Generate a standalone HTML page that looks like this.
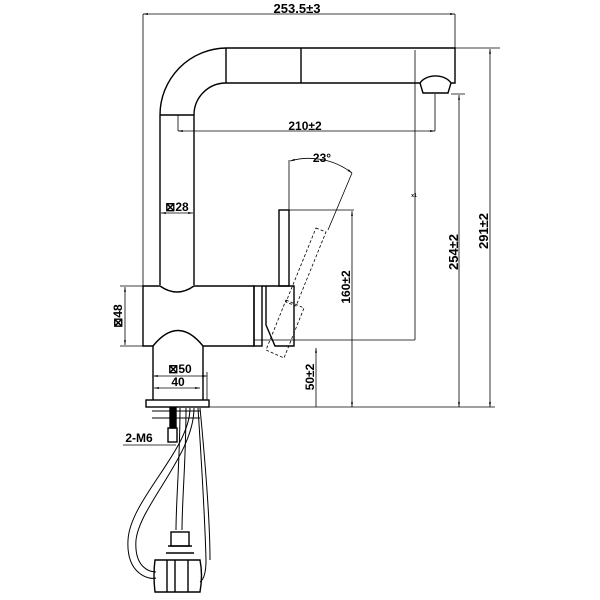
<!DOCTYPE html>
<html><head><style>html,body{margin:0;padding:0;background:#fff}svg{display:block}text{font-family:"Liberation Sans",sans-serif;font-weight:bold;fill:#000}</style></head>
<body>
<svg width="600" height="600" viewBox="0 0 600 600" xmlns="http://www.w3.org/2000/svg">
<defs><marker id="a" viewBox="0 0 10 10" refX="10" refY="5" markerWidth="6" markerHeight="6" orient="auto-start-reverse"><path d="M0,3 L10,5 L0,7z" fill="#000"/></marker></defs>
<g fill="none" stroke="#000" stroke-width="1.4">
<!-- spout -->
<path d="M160,285 L160,115 A67,67 0 0 1 226,48 L455,48 L455,83 L451,83"/>
<path d="M194,285 L194,115 A32,32 0 0 1 226,83 L420,83"/>
<path d="M226,48V83 M301,48V83 M160,115H194"/>
<path d="M420,83 A17,12 0 0 1 451,83 L448,93 L423,93 Z"/>
<!-- lever -->
<rect x="279" y="210" width="10" height="76"/>
<path d="M262,286 H294 V346 H275 L266,325 V286"/>
<rect x="254" y="286" width="8" height="60"/>
<!-- body -->
<path d="M143,286 H160 Q177,298 194,286 H254 V346 H203 Q178,315 153,346 H143 Z"/>
<path d="M153,346 V400 M203,346 V400"/>
<rect x="146" y="400" width="63" height="7"/>
<path d="M152,411 H200 M152,418 H200" stroke-width="1"/>
<rect x="170" y="408" width="6" height="20" fill="#000"/>
<rect x="168" y="428" width="9" height="14"/>
<!-- hoses -->
<path d="M180,408 C180,460 176,500 176,530 M186,408 C186,460 182,500 182,530" stroke-width="1"/>
<path d="M190,408 C190,450 130,500 128,540 C126,575 150,580 156,578" stroke-width="1"/>
<path d="M194,408 C194,455 140,505 136,540 C134,568 150,572 156,572" stroke-width="1"/>
<path d="M198,408 C202,470 205,520 206,560 C206,575 203,580 200,582 M200,408 C206,470 210,520 210,560" stroke-width="1"/>
<rect x="171" y="532" width="18" height="14"/>
<path d="M168,546 H192 M166,553 H194"/>
<path d="M155,560 Q153,575 155,592 H200 Q203,575 200,560 Z"/>
<path d="M167,560V592 M175,560V592 M188,560V592"/>
</g>
<g fill="none" stroke="#000" stroke-width="0.8">
<!-- dashed rotated lever -->
<path stroke-dasharray="3,2" d="M316,228 L326,232 L296,306 L286,302 Z M286,300 L304,308 L284,358 L266,350 Z"/>
<!-- 253.5 -->
<path d="M143,14 H455" marker-start="url(#a)" marker-end="url(#a)"/>
<path d="M143,14 V286 M455,14 V48"/>
<!-- 210 -->
<path d="M178,131 H435" marker-start="url(#a)" marker-end="url(#a)"/>
<path d="M178,115 V131 M435,94 V131"/>
<path d="M415,50 V340 M254,340 H415"/>
<!-- 254 / 291 -->
<path d="M459,95 V407" marker-start="url(#a)" marker-end="url(#a)"/>
<path d="M451,94 H465 M455,48 H500"/>
<path d="M490,49 V407" marker-start="url(#a)" marker-end="url(#a)"/>
<path d="M209,407 H495"/>
<!-- 23 deg -->
<path d="M289,160 V210 M289,210 H354"/>
<path d="M290,161 A70,70 0 0 1 352,173" marker-start="url(#a)" marker-end="url(#a)"/>
<path d="M352,173 L328,230"/>
<path d="M352,211 V407" marker-start="url(#a)" marker-end="url(#a)"/>
<!-- 50 -->
<path d="M316,348 V407" marker-start="url(#a)"/>
<!-- 48 -->
<path d="M125,287 V345" marker-start="url(#a)" marker-end="url(#a)"/>
<path d="M120,286 H143 M120,346 H143"/>
<!-- 28 -->
<path d="M161,213 H193" marker-start="url(#a)" marker-end="url(#a)"/>
<!-- 50 / 40 -->
<path d="M153,376 H207" marker-start="url(#a)" marker-end="url(#a)"/>
<path d="M153,372 V380 M207,372 V400"/>
<path d="M154,388 H200" marker-start="url(#a)" marker-end="url(#a)"/>
<path d="M123,445 H176"/>
</g>
<text x="297" y="13" font-size="13" text-anchor="middle">253.5±3</text>
<text x="305" y="130" font-size="12" text-anchor="middle">210±2</text>
<text x="322" y="162" font-size="12" text-anchor="middle">23°</text>
<text x="177" y="211" font-size="12" text-anchor="middle">⊠28</text>
<text x="180" y="373" font-size="12" text-anchor="middle">⊠50</text>
<text x="178" y="386" font-size="12" text-anchor="middle">40</text>
<text x="139" y="442" font-size="12" text-anchor="middle">2-M6</text>
<text x="414" y="197" font-size="5" text-anchor="middle">x1</text>
<text transform="translate(122,316) rotate(-90)" font-size="12" text-anchor="middle">⊠48</text>
<text transform="translate(350,287) rotate(-90)" font-size="12" text-anchor="middle">160±2</text>
<text transform="translate(314,377) rotate(-90)" font-size="12" text-anchor="middle">50±2</text>
<text transform="translate(458,252) rotate(-90)" font-size="13" text-anchor="middle">254±2</text>
<text transform="translate(488,231) rotate(-90)" font-size="13" text-anchor="middle">291±2</text>
</svg>
</body></html>
